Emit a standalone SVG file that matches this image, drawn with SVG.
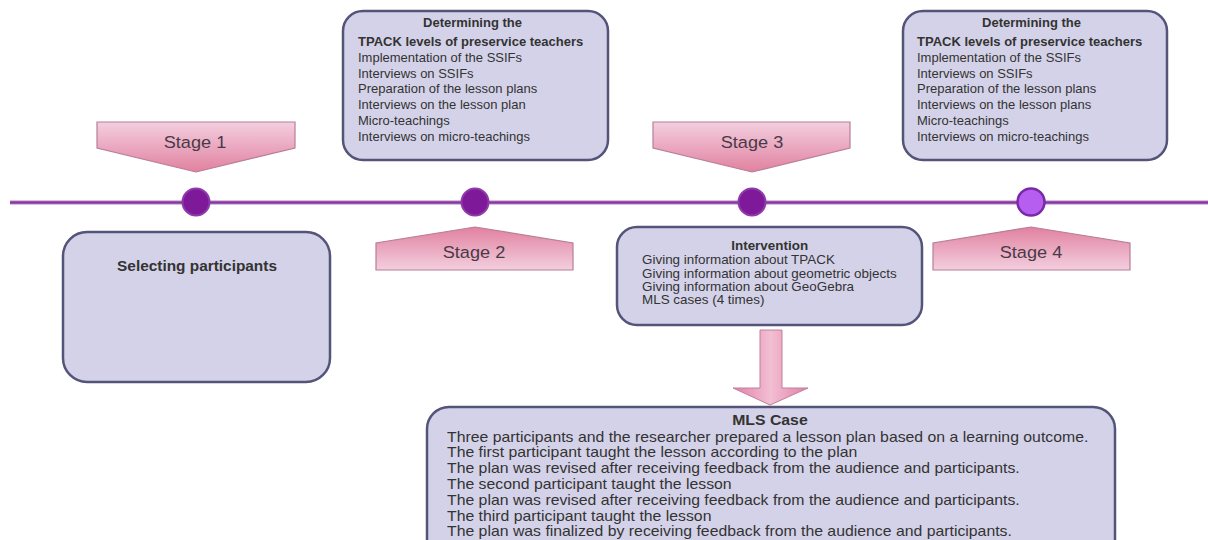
<svg xmlns="http://www.w3.org/2000/svg" width="1208" height="540" viewBox="0 0 1208 540">
<style>
.box{fill:#d3d2e8;stroke:#54547a;stroke-width:2.5}
.t{font-family:"Liberation Sans",Arial,sans-serif;fill:#333;font-size:13px}
.b{font-weight:bold}
.st{font-family:"Liberation Sans",Arial,sans-serif;fill:#4a3a48;font-size:16.5px}
.pent{stroke:#b77e98;stroke-width:1.2}
.dot{fill:#7e1a9a;stroke:#8f3aab;stroke-width:2}
</style>
<defs>
<linearGradient id="gDown" x1="0" y1="0" x2="0" y2="1">
<stop offset="0" stop-color="#f3cfdf"/><stop offset="1" stop-color="#e1819f"/>
</linearGradient>
<linearGradient id="gUp" x1="0" y1="0" x2="0" y2="1">
<stop offset="0" stop-color="#e1819f"/><stop offset="1" stop-color="#f3cfdf"/>
</linearGradient>
<linearGradient id="gArrow" x1="0" y1="0" x2="1" y2="0">
<stop offset="0" stop-color="#e27fa6"/><stop offset="0.5" stop-color="#f2bfd3"/><stop offset="1" stop-color="#e27fa6"/>
</linearGradient>
</defs>

<g id="connectors">
<line x1="10" y1="202.5" x2="1208" y2="202.5" stroke="#d9bde3" stroke-width="5"/>
<line x1="10" y1="202.5" x2="1208" y2="202.5" stroke="#85379c" stroke-width="2.5"/>
<path d="M760,330 L782,330 L782,388 L808,388 L770,405 L733,388 L760,388 Z" fill="url(#gArrow)" stroke="#c07f9c" stroke-width="1"/>
</g>

<g id="stage1">
<polygon class="pent" points="97,122 295,122 295,148 196,172 97,148" fill="url(#gDown)"/>
<text class="st" text-anchor="middle" transform="translate(195 148) scale(1.1 1)">Stage 1</text>
<circle class="dot" cx="196" cy="202" r="13.5"/>
</g>

<g id="stage2">
<polygon class="pent" points="376,270 573,270 573,243 475,227 376,243" fill="url(#gUp)"/>
<text class="st" text-anchor="middle" transform="translate(474 258) scale(1.1 1)">Stage 2</text>
<circle class="dot" cx="475" cy="202" r="13.5"/>
</g>

<g id="stage3">
<polygon class="pent" points="653,122 850,122 850,148 752,172 653,148" fill="url(#gDown)"/>
<text class="st" text-anchor="middle" transform="translate(752 148) scale(1.1 1)">Stage 3</text>
<circle class="dot" cx="752" cy="202" r="13.5"/>
</g>

<g id="stage4">
<polygon class="pent" points="933,270 1130,270 1130,243 1031,227 933,243" fill="url(#gUp)"/>
<text class="st" text-anchor="middle" transform="translate(1031 258) scale(1.1 1)">Stage 4</text>
<circle cx="1031" cy="202" r="13.5" fill="#b65ef0" stroke="#7a2aa8" stroke-width="2.5"/>
</g>

<g id="box-stage2">
<rect class="box" x="343" y="11" width="265" height="149" rx="20"/>
<text class="t b" x="472.5" y="27" text-anchor="middle">Determining the</text>
<text class="t b" x="358" y="46">TPACK levels of preservice teachers</text>
<text class="t" x="358" y="61.8">Implementation of the SSIFs</text>
<text class="t" x="358" y="77.6">Interviews on SSIFs</text>
<text class="t" x="358" y="93.4">Preparation of the lesson plans</text>
<text class="t" x="358" y="109.2">Interviews on the lesson plan</text>
<text class="t" x="358" y="125">Micro-teachings</text>
<text class="t" x="358" y="140.8">Interviews on micro-teachings</text>
</g>

<g id="box-stage4">
<rect class="box" x="903" y="11" width="264" height="149" rx="20"/>
<text class="t b" x="1031.5" y="27" text-anchor="middle">Determining the</text>
<text class="t b" x="917" y="46">TPACK levels of preservice teachers</text>
<text class="t" x="917" y="61.8">Implementation of the SSIFs</text>
<text class="t" x="917" y="77.6">Interviews on SSIFs</text>
<text class="t" x="917" y="93.4">Preparation of the lesson plans</text>
<text class="t" x="917" y="109.2">Interviews on the lesson plans</text>
<text class="t" x="917" y="125">Micro-teachings</text>
<text class="t" x="917" y="140.8">Interviews on micro-teachings</text>
</g>

<g id="box-stage1">
<rect class="box" x="63" y="232" width="267" height="150" rx="24"/>
<text class="t b" text-anchor="middle" style="font-size:14px" transform="translate(197 271) scale(1.1 1)">Selecting participants</text>
</g>

<g id="box-stage3">
<rect class="box" x="617" y="227" width="305" height="98" rx="20"/>
<g transform="translate(642 0) scale(1.12 1)">
<text class="t b" x="114" y="250" text-anchor="middle" style="font-size:12px">Intervention</text>
<text class="t" x="0" y="264.5" style="font-size:12px">Giving information about TPACK</text>
<text class="t" x="0" y="277.8" style="font-size:12px">Giving information about geometric objects</text>
<text class="t" x="0" y="291.2" style="font-size:12px">Giving information about GeoGebra</text>
<text class="t" x="0" y="304.5" style="font-size:12px">MLS cases (4 times)</text>
</g>
</g>

<g id="box-mls">
<rect class="box" x="427" y="407" width="688" height="160" rx="22"/>
<g transform="translate(447 0) scale(1.13 1)">
<text class="t b" x="285.8" y="425" text-anchor="middle" style="font-size:14px">MLS Case</text>
<text class="t" x="0" y="441.7" style="font-size:14px">Three participants and the researcher prepared a lesson plan based on a learning outcome.</text>
<text class="t" x="0" y="457.5" style="font-size:14px">The first participant taught the lesson according to the plan</text>
<text class="t" x="0" y="473.3" style="font-size:14px">The plan was revised after receiving feedback from the audience and participants.</text>
<text class="t" x="0" y="489.1" style="font-size:14px">The second participant taught the lesson</text>
<text class="t" x="0" y="504.9" style="font-size:14px">The plan was revised after receiving feedback from the audience and participants.</text>
<text class="t" x="0" y="520.7" style="font-size:14px">The third participant taught the lesson</text>
<text class="t" x="0" y="536.5" style="font-size:14px">The plan was finalized by receiving feedback from the audience and participants.</text>
</g>
</g>
</svg>
